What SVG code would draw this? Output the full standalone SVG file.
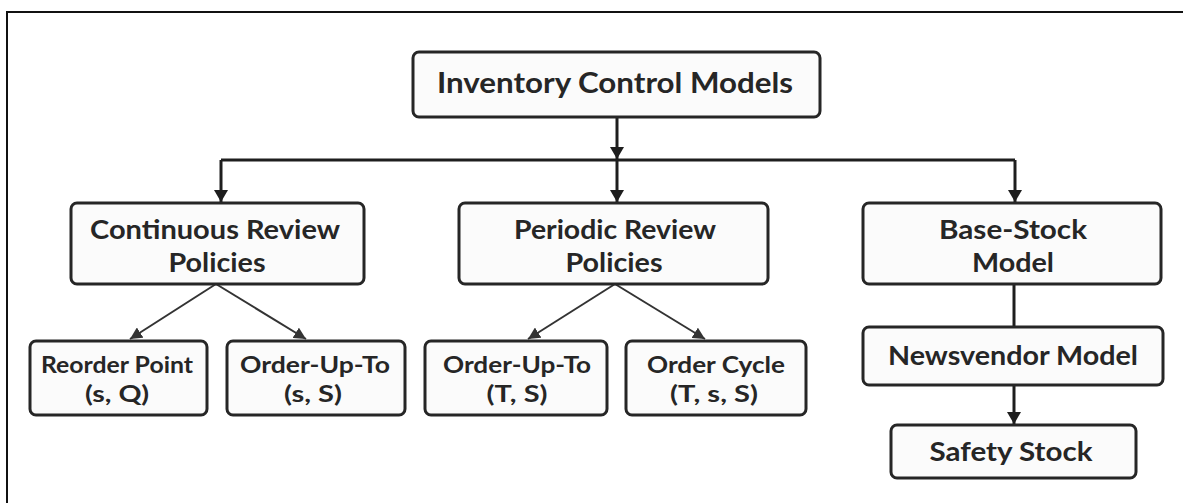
<svg xmlns="http://www.w3.org/2000/svg" width="1183" height="503" viewBox="0 0 1183 503">
  <style>
    .box { fill: #fbfbfb; stroke: #262626; stroke-width: 3; }
    .lbl { font-family: Lato, "Open Sans", "Liberation Sans", sans-serif; font-weight: 700; fill: #262626; text-anchor: middle; }
    .t1 { font-size: 29px; }
    .t2 { font-size: 27px; }
    .t3 { font-size: 23px; }
    .t4 { font-size: 26px; }
    .main { fill: none; stroke: #1e1e1e; stroke-width: 3; }
    .thin { fill: none; stroke: #333; stroke-width: 2; }
  </style>
  <defs>
    <marker id="arrowBig" markerUnits="userSpaceOnUse" viewBox="0 0 12 14" refX="12" refY="7" markerWidth="12" markerHeight="14" orient="auto">
      <path d="M0,0 L12,7 L0,14 Z" fill="#1e1e1e"/>
    </marker>
    <marker id="arrowSmall" markerUnits="userSpaceOnUse" viewBox="0 0 12 12" refX="12" refY="6" markerWidth="12" markerHeight="12" orient="auto">
      <path d="M0,0 L12,6 L0,12 Z" fill="#333"/>
    </marker>
  </defs>

  <rect width="1183" height="503" fill="#ffffff"/>
  <!-- frame: top and left rules -->
  <path d="M7,503 L7,12 L1183,12" fill="none" stroke="#111" stroke-width="2"/>

  <g id="connectors">
    <path class="main" d="M617,117 L617,159" marker-end="url(#arrowBig)"/>
    <path class="main" d="M221,160 L1015,160"/>
    <path class="main" d="M221,160 L221,202" marker-end="url(#arrowBig)"/>
    <path class="main" d="M617,160 L617,202" marker-end="url(#arrowBig)"/>
    <path class="main" d="M1015,160 L1015,202" marker-end="url(#arrowBig)"/>
    <path class="thin" d="M216,284 L130,339" marker-end="url(#arrowSmall)"/>
    <path class="thin" d="M216,284 L306,339" marker-end="url(#arrowSmall)"/>
    <path class="thin" d="M615,284 L528,339" marker-end="url(#arrowSmall)"/>
    <path class="thin" d="M615,284 L705,339" marker-end="url(#arrowSmall)"/>
    <path class="main" d="M1014,284 L1014,327"/>
    <path class="main" d="M1014,385 L1014,424" marker-end="url(#arrowBig)"/>
  </g>

  <g id="inventory-control-models">
    <rect class="box" x="413" y="52" width="407" height="65" rx="6"/>
    <text class="lbl t1" x="615" y="93" textLength="356" lengthAdjust="spacingAndGlyphs">Inventory Control Models</text>
  </g>

  <g id="continuous-review">
    <rect class="box" x="71" y="203" width="293" height="81" rx="6"/>
    <text class="lbl t2" x="215" y="239" textLength="250" lengthAdjust="spacingAndGlyphs">Continuous Review</text>
    <text class="lbl t2" x="217" y="272" textLength="97" lengthAdjust="spacingAndGlyphs">Policies</text>
  </g>

  <g id="periodic-review">
    <rect class="box" x="459" y="203" width="309" height="81" rx="6"/>
    <text class="lbl t2" x="615" y="239" textLength="202" lengthAdjust="spacingAndGlyphs">Periodic Review</text>
    <text class="lbl t2" x="614" y="272" textLength="97" lengthAdjust="spacingAndGlyphs">Policies</text>
  </g>

  <g id="base-stock">
    <rect class="box" x="863" y="203" width="298" height="81" rx="6"/>
    <text class="lbl t2" x="1013" y="239" textLength="148" lengthAdjust="spacingAndGlyphs">Base-Stock</text>
    <text class="lbl t2" x="1013" y="272" textLength="82" lengthAdjust="spacingAndGlyphs">Model</text>
  </g>

  <g id="reorder-point">
    <rect class="box" x="30" y="341" width="177" height="74" rx="6"/>
    <text class="lbl t3" x="117" y="373" textLength="152" lengthAdjust="spacingAndGlyphs">Reorder Point</text>
    <text class="lbl t3" x="117" y="402" textLength="64" lengthAdjust="spacingAndGlyphs">(s, Q)</text>
  </g>

  <g id="order-up-to-sS">
    <rect class="box" x="227" y="341" width="178" height="74" rx="6"/>
    <text class="lbl t3" x="315" y="373" textLength="150" lengthAdjust="spacingAndGlyphs">Order-Up-To</text>
    <text class="lbl t3" x="313" y="402" textLength="58" lengthAdjust="spacingAndGlyphs">(s, S)</text>
  </g>

  <g id="order-up-to-TS">
    <rect class="box" x="425" y="341" width="182" height="74" rx="6"/>
    <text class="lbl t3" x="517" y="373" textLength="148" lengthAdjust="spacingAndGlyphs">Order-Up-To</text>
    <text class="lbl t3" x="517" y="402" textLength="61" lengthAdjust="spacingAndGlyphs">(T, S)</text>
  </g>

  <g id="order-cycle">
    <rect class="box" x="626" y="341" width="180" height="74" rx="6"/>
    <text class="lbl t3" x="716" y="373" textLength="138" lengthAdjust="spacingAndGlyphs">Order Cycle</text>
    <text class="lbl t3" x="714" y="402" textLength="88" lengthAdjust="spacingAndGlyphs">(T, s, S)</text>
  </g>

  <g id="newsvendor">
    <rect class="box" x="863" y="327" width="300" height="58" rx="6"/>
    <text class="lbl t4" x="1013" y="365" textLength="250" lengthAdjust="spacingAndGlyphs">Newsvendor Model</text>
  </g>

  <g id="safety-stock">
    <rect class="box" x="891" y="425" width="245" height="53" rx="6"/>
    <text class="lbl t4" x="1011" y="461" textLength="163" lengthAdjust="spacingAndGlyphs">Safety Stock</text>
  </g>
</svg>
